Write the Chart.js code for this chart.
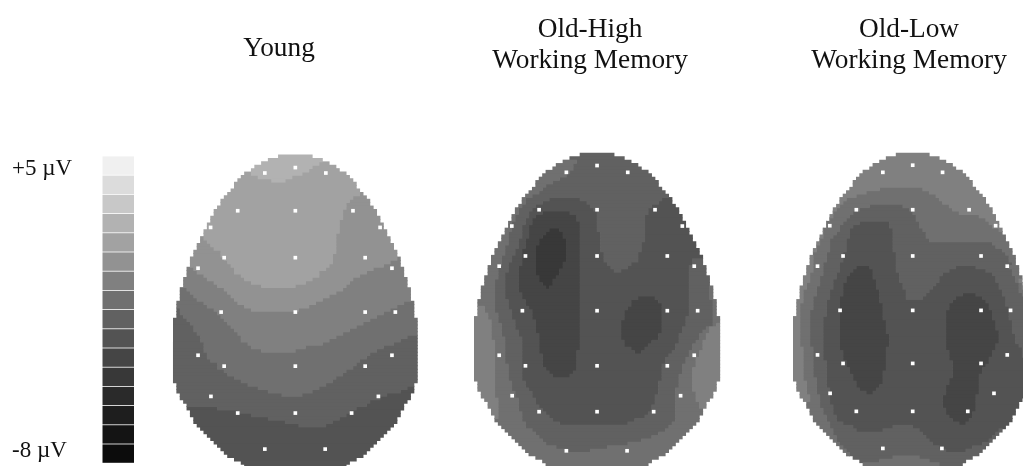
<!DOCTYPE html>
<html>
<head>
<meta charset="utf-8">
<title>Scalp maps</title>
<script src="https://cdn.jsdelivr.net/npm/chart.js@4/dist/chart.umd.min.js"></script>
<style>
body { margin: 0; background: #fff; overflow: hidden; }
#wrap { position: relative; width: 1023px; height: 466px; overflow: hidden; }
canvas { position: absolute; left: 0; top: 0; }
.lbl { position: absolute; font-family: "Liberation Serif", serif; color: #111; white-space: nowrap; transform: translateX(-50%); font-size: 27.3px; line-height: 31px; text-align: center; }
.scale { position: absolute; font-family: "Liberation Serif", serif; color: #111; white-space: nowrap; font-size: 23px; line-height: 26px; }
</style>
</head>
<body>
<div id="wrap">
  <canvas id="chart" width="1023" height="466"></canvas>
  <div class="lbl" style="left:279px;top:32px">Young</div>
  <div class="lbl" style="left:590px;top:13px">Old-High<br>Working Memory</div>
  <div class="lbl" style="left:909px;top:13px">Old-Low<br>Working Memory</div>
  <div class="scale" style="left:12px;top:155px">+5 µV</div>
  <div class="scale" style="left:12px;top:437px">-8 µV</div>
</div>
<script>
// grey of each colour bar step, +5 uV at index 0, -8 uV at index 15
const greys = ['#f0f0f0','#dcdcdc','#c8c8c8','#b2b2b2','#a2a2a2','#929292','#808080','#707070','#616161','#535353','#454545','#383838','#2a2a2a','#1e1e1e','#141414','#0c0c0c'];
const barSteps = [0,1,2,3,4,5,6,7,8,9,10,11,12,13,14,15];

// first and last column of the head on each grid row
const outlineStart = [31,28,26,24,23,21,20,19,18,18,17,16,15,14,14,13,12,12,11,11,10,10,9,9,8,8,7,7,6,6,5,5,5,4,4,4,3,3,3,2,2,2,2,1,1,1,1,1,0,0,0,0,0,0,0,0,0,0,0,0,0,0,0,0,0,0,0,1,1,1,2,2,3,4,4,5,5,6,6,7,8,9,10,11,12,13,14,15,16,18,20,21];
const outlineEnd = [41,44,46,48,49,51,52,53,54,54,55,56,57,58,58,59,60,60,61,61,62,62,63,63,64,64,65,65,66,66,67,67,67,68,68,68,69,69,69,70,70,70,70,71,71,71,71,71,72,72,72,72,72,72,72,72,72,72,72,72,72,72,72,72,72,72,72,71,71,71,70,70,69,68,68,67,67,66,66,65,64,63,62,61,60,59,58,57,56,54,52,51];

// each row: step, column where it changes, next step, ...
const youngRows = [
[3],[3],[3,43,4],[3,41,4],[3,40,4],[4,23,3,38,4],[4,25,3,35,4],[4,29,3,33,4],[4],[4],[4],
[4,55,5],[4,53,5],[4,52,5],[4,51,5],[4,51,5],[4,50,5],[4,50,5],[4,50,5],[4,49,5],[4,49,5],[4,49,5],[4,49,5],[4,48,5],
[5,9,4,48,5],[5,10,4,48,5],[5,11,4,48,5],[5,12,4,48,5],[5,14,4,48,5],[5,14,4,47,5],[5,15,4,47,5,66,6],[5,16,4,47,5,64,6],[5,17,4,46,5,62,6],
[6,6,5,18,4,45,5,59,6],[6,7,5,18,4,43,5,57,6],[6,9,5,20,4,43,5,55,6],[6,10,5,21,4,41,5,53,6],[6,12,5,23,4,39,5,52,6],[6,13,5,26,4,36,5,51,6],
[7,4,6,15,5,50,6],[7,5,6,16,5,48,6],[7,6,6,17,5,46,6],[7,7,6,18,5,44,6],[7,9,6,19,5,42,6,68,7],[7,10,6,21,5,40,6,66,7],
[8,2,7,12,6,23,5,37,6,64,7],[8,2,7,13,6,62,7],[8,3,7,14,6,60,7],[8,4,7,15,6,58,7],[8,5,7,16,6,56,7],[8,6,7,17,6,54,7],[8,6,7,18,6,52,7],[8,7,7,19,6,50,7],
[8,8,7,20,6,48,7,69,8],[8,8,7,20,6,46,7,67,8],[8,9,7,22,6,44,7,65,8],[8,9,7,23,6,39,7,62,8],[8,9,7,26,6,36,7,60,8],
[8,10,7,58,8],[8,10,7,57,8],[8,11,7,55,8],[8,13,7,54,8],[8,13,7,53,8],[8,15,7,51,8],[8,16,7,50,8],[8,18,7,48,8],[8,20,7,47,8],[8,22,7,45,8],
[8,25,7,43,8,69,9],[8,28,7,41,8,67,9],[8,32,7,38,8,63,9],[8,61,9],[8,58,9],[8,57,9],
[9,13,8,54,9],[9,19,8,52,9],[9,23,8,51,9],[9,28,8,49,9],[9,33,8,47,9],[9,37,8,45,9],
[9],[9],[9],[9],[9],[9],[9],[9],[9],[9],[9],[9]
];

const highRows = [
[8],[8],[7,30,8],[7,29,8],[7,29,8],[7,28,8],[7,27,8],[7,25,8],[7,23,8],[7,21,8],[7,20,8],[7,19,8],[7,17,8],
[7,15,8,22,9,31,8,55,9],[7,15,8,20,9,33,8,54,9],[7,14,8,18,9,34,8,52,9],[7,13,8,17,9,35,8,51,9],
[7,13,8,16,9,20,10,28,9,36,8,51,9],[7,12,8,16,9,18,10,30,9,36,8,50,9],[7,12,8,15,9,17,10,30,9,36,8,50,9],[7,11,8,15,9,17,10,31,9,36,8,50,9],[7,11,8,14,9,16,10,31,9,36,8,50,9],
[7,11,8,14,9,16,10,22,11,25,10,31,9,36,8,50,9],[7,10,8,14,9,16,10,21,11,26,10,31,9,37,8,50,9],[7,10,8,14,9,16,10,20,11,26,10,31,9,37,8,50,9],
[7,10,8,13,9,15,10,19,11,27,10,31,9,37,8,50,9],[7,10,8,13,9,15,10,19,11,27,10,31,9,37,8,49,9],[7,9,8,13,9,15,10,18,11,27,10,31,9,37,8,49,9],
[7,9,8,12,9,14,10,18,11,27,10,31,9,37,8,49,9],[7,9,8,12,9,14,10,18,11,27,10,31,9,38,8,48,9],[7,8,8,11,9,14,10,18,11,27,10,31,9,38,8,48,9],
[7,8,8,11,9,14,10,18,11,27,10,31,9,38,8,48,9,64,8],[7,8,8,10,9,14,10,18,11,26,10,31,9,39,8,46,9,64,8],[7,7,8,10,9,13,10,18,11,26,10,31,9,40,8,45,9,63,8],
[7,7,8,10,9,13,10,18,11,25,10,31,9,41,8,43,9,63,8],[7,7,8,9,9,13,10,18,11,25,10,31,9,63,8],[7,7,8,9,9,13,10,19,11,24,10,31,9,63,8],
[7,6,8,9,9,13,10,19,11,23,10,31,9,63,8],[7,6,8,9,9,13,10,20,11,23,10,31,9,63,8],[7,6,8,9,9,13,10,21,11,22,10,31,9,63,8,69,7],
[7,6,8,9,9,13,10,31,9,63,8,69,7],[7,6,8,9,9,14,10,31,9,63,8,69,7],[7,6,8,9,9,14,10,31,9,48,10,53,9,63,8,69,7],
[7,6,8,10,9,15,10,31,9,46,10,54,9,63,8,70,7],[7,6,8,10,9,15,10,31,9,46,10,55,9,63,8,70,7],
[6,3,7,6,8,10,9,16,10,31,9,45,10,55,9,63,8,70,7],[6,3,7,6,8,11,9,17,10,31,9,44,10,55,9,63,8,70,7],[6,4,7,7,8,11,9,17,10,31,9,44,10,55,9,63,8,70,7],
[6,4,7,7,8,11,9,17,10,31,9,44,10,55,9,62,8,70,7],[6,5,7,7,8,12,9,18,10,31,9,43,10,55,9,62,8,70,7],[6,5,7,8,8,12,9,18,10,31,9,43,10,55,9,62,8,70,7,71,6],
[6,5,7,8,8,12,9,18,10,31,9,43,10,55,9,61,8,68,7,69,6],[6,5,7,8,8,13,9,18,10,31,9,43,10,55,9,61,8,67,7,69,6],[6,5,7,8,8,13,9,19,10,31,9,43,10,54,9,60,8,66,7,68,6],
[6,5,7,9,8,14,9,19,10,31,9,43,10,54,9,60,8,66,7,68,6],[6,6,7,9,8,14,9,19,10,31,9,44,10,52,9,60,8,65,7,67,6],[6,6,7,9,8,14,9,19,10,31,9,44,10,51,9,59,8,64,7,67,6],
[6,6,7,9,8,14,9,19,10,31,9,46,10,50,9,59,8,64,7,67,6],[6,6,7,9,8,14,9,19,10,30,9,47,10,49,9,58,8,63,7,66,6],[6,6,7,9,8,14,9,20,10,30,9,57,8,63,7,66,6],
[6,6,7,9,8,14,9,20,10,30,9,56,8,62,7,65,6],[6,6,7,9,8,14,9,20,10,30,9,56,8,62,7,65,6],[6,6,7,10,8,14,9,20,10,30,9,55,8,61,7,65,6],
[6,6,7,10,8,14,9,21,10,30,9,55,8,61,7,64,6],[6,6,7,10,8,14,9,22,10,29,9,55,8,61,7,64,6],[6,6,7,10,8,14,9,23,10,28,9,55,8,60,7,64,6],
[6,6,7,10,8,14,9,55,8,60,7,64,6],[6,6,7,11,8,15,9,54,8,60,7,64,6],[6,6,7,11,8,15,9,54,8,60,7,64,6],[6,6,7,11,8,16,9,54,8,59,7,64,6],
[6,6,7,12,8,17,9,54,8,59,7,65,6],[6,6,7,12,8,17,9,53,8,59,7,65,6],[6,7,7,13,8,18,9,53,8,59,7,65,6],[6,7,7,13,8,18,9,53,8,59,7,66,6],[6,7,7,13,8,19,9,52,8,59,7,66,6],
[6,7,7,13,8,20,9,52,8,59,7],[6,7,7,14,8,21,9,51,8,59,7],[6,7,7,14,8,22,9,50,8,59,7],[7,14,8,23,9,47,8,59,7],[7,15,8,25,9,45,8,58,7],
[7,15,8,57,7],[7,17,8,56,7],[7,18,8,54,7],[7,19,8,52,7],[7,20,8,49,7],[7,21,8,45,7],[7,24,8,39,7],[7,27,8,34,7],[7],[7],[7],[7]
];

const lowRows = [
[6],[6],[6],[6],[6],[6],[6],[6],[6],[6],[6,26,7,39,6],[6,22,7,41,6],[6,19,7,43,6],[6,16,7,44,6],[6,15,7,45,6],
[6,14,7,23,8,33,7,47,6],[6,13,7,20,8,35,7,48,6],[6,12,7,18,8,36,7,50,6],[6,12,7,17,8,37,7,56,6],[6,11,7,16,8,37,7,58,6],
[6,10,7,15,8,20,9,29,8,38,7,59,6],[6,10,7,14,8,18,9,29,8,38,7,60,6],[6,9,7,14,8,17,9,30,8,39,7,62,6],[6,9,7,13,8,17,9,30,8,40,7],[6,9,7,12,8,17,9,30,8,40,7],[6,8,7,11,8,16,9,30,8,41,7],
[6,8,7,11,8,16,9,30,8,60,7],[7,11,8,16,9,30,8,61,7],[6,7,7,11,8,16,9,30,8,63,7],[7,10,8,15,9,31,8,64,7],[6,6,7,10,8,15,9,31,8,65,7],[6,6,7,10,8,15,9,31,8,65,7],[6,6,7,9,8,14,9,31,8,66,7],
[6,6,7,9,8,14,9,19,10,23,9,31,8,49,9,55,8,65,7],[6,6,7,9,8,14,9,18,10,24,9,31,8,47,9,58,8,66,7],[6,5,7,9,8,13,9,17,10,24,9,32,8,45,9,60,8,66,7],[6,5,7,8,8,13,9,16,10,24,9,32,8,44,9,61,8,67,7],
[6,5,7,8,8,12,9,16,10,25,9,32,8,44,9,61,8,67,7,68,6],[6,4,7,8,8,12,9,15,10,25,9,33,8,43,9,62,8,68,7,69,6],[6,4,7,7,8,12,9,15,10,25,9,33,8,42,9,62,8,68,7,69,6],
[6,3,7,7,8,11,9,15,10,26,9,34,8,41,9,63,8,68,7],[6,3,7,7,8,11,9,15,10,26,9,34,8,40,9,51,10,55,9,63,8,69,7],[6,3,7,6,8,11,9,14,10,26,9,34,8,39,9,49,10,57,9,64,8],
[6,3,7,6,8,10,9,14,10,26,9,48,10,58,9,64,8],[6,2,7,6,8,10,9,14,10,27,9,47,10,59,9,64,8],[6,2,7,6,8,10,9,14,10,27,9,47,10,59,9,65,8],
[6,2,7,5,8,10,9,14,10,27,9,46,10,60,9,65,8],[6,2,7,5,8,10,9,14,10,27,9,46,10,60,9,65,8],[6,2,7,5,8,9,9,14,10,27,9,46,10,60,9,65,8],
[6,2,7,5,8,9,9,14,10,28,9,46,10,61,9,66,8],[6,2,7,5,8,9,9,14,10,28,9,46,10,61,9,66,8],[6,2,7,5,8,9,9,14,10,28,9,46,10,61,9,66,8],[6,2,7,5,8,9,9,14,10,28,9,46,10,62,9,66,8],
[6,2,7,5,8,9,9,14,10,29,9,46,10,62,9,67,8],[6,2,7,5,8,9,9,14,10,29,9,46,10,62,9,67,8],[6,2,7,5,8,9,9,14,10,29,9,46,10,62,9,67,8],[6,2,7,5,8,9,9,14,10,29,9,46,10,61,9,68,8],
[6,3,7,6,8,9,9,14,10,28,9,46,10,61,9,69,8],[6,3,7,6,8,9,9,15,10,28,9,47,10,60,9,69,8],[6,3,7,6,8,9,9,15,10,28,9,47,10,60,9,69,8],[6,3,7,6,8,9,9,15,10,28,9,47,10,59,9,70,8],
[6,3,7,6,8,10,9,16,10,28,9,48,10,59,9,70,8],[6,3,7,6,8,10,9,16,10,28,9,48,10,58,9,70,8],[6,3,7,6,8,10,9,17,10,28,9,48,10,57,9,71,8],[6,3,7,6,8,10,9,17,10,27,9,48,10,57,9,71,8],
[6,3,7,6,8,10,9,18,10,27,9,48,10,56,9],[6,3,7,7,8,10,9,18,10,27,9,47,10,56,9],[6,4,7,7,8,10,9,19,10,27,9,47,10,56,9],[6,4,7,7,8,10,9,19,10,26,9,46,10,56,9],
[6,4,7,7,8,11,9,20,10,25,9,46,10,56,9],[6,4,7,7,8,11,9,22,10,24,9,46,10,56,9],[6,5,7,8,8,11,9,45,10,55,9],[6,5,7,8,8,11,9,45,10,55,9],
[7,8,8,11,9,45,10,55,9],[7,8,8,12,9,45,10,55,9],[7,9,8,12,9,46,10,55,9],[7,9,8,12,9,46,10,54,9],[7,10,8,13,9,47,10,54,9],[7,10,8,13,9,48,10,53,9],[7,11,8,15,9,50,10,52,9],
[7,11,8,18,9,30,8,36,9],[7,12,8,19,9,27,8,38,9,62,8],[7,12,8,39,9,61,8],[7,13,8,40,9,60,8],[7,13,8,41,9,59,8],[7,14,8,42,9,57,8],[7,15,8,44,9,54,8],[7,16,8,46,9,52,8],
[7,17,8],[8,30,7,38,8],[8,26,7,41,8],[7,44,8]
];

// electrode columns, same montage on all three heads
const dotCols = [36,27,45,19,36,53,11,61,15,36,56.6,7.3,64.5,14.1,36,56.6,65.5,7.3,64.5,15,36,56.6,11.1,60.5,19,36,52.6,27,44.8];
const youngDotRows = [3.7,5.3,5.3,16.4,16.4,16.4,21.3,21.3,30.2,30.2,30.2,33.3,33.3,46.2,46.2,46.2,46.2,58.9,58.9,62.1,62.1,62.1,71,71,75.9,75.9,75.9,86.5,86.5];
const highDotRows = [3.6,5.6,5.6,16.6,16.6,16.6,21.4,21.4,30.2,30.2,30.2,33.2,33.2,46.3,46.3,46.3,46.3,59.4,59.4,62.5,62.5,62.5,71.3,71.3,76,76,76,87.5,87.5];
const lowDotRows = [3.5,5.6,5.6,16.6,16.6,16.6,21.3,21.3,30.2,30.2,30.2,33.2,33.2,46.2,46.2,46.2,46.2,59.3,59.3,61.8,61.8,61.8,70.6,70.6,75.9,75.9,75.9,86.8,86.8];

// where each head's grid sits on the chart axes
const heads = [
    { rows: youngRows, dotRows: youngDotRows, left: 173.3, top: 155, cellW: 3.39, cellH: 3.4 },
    { rows: highRows, dotRows: highDotRows, left: 474.3, top: 153.3, cellW: 3.41, cellH: 3.4 },
    { rows: lowRows, dotRows: lowDotRows, left: 793.3, top: 153.3, cellW: 3.317, cellH: 3.4 }
];

const runsByStep = {};
const dots = [];

heads.forEach(head => {
    head.rows.forEach((row, r) => {
        const y = head.top + (r + 0.5) * head.cellH;
        let from = outlineStart[r];
        for (let i = 0; i < row.length; i += 2) {
            const to = i + 1 < row.length ? row[i + 1] : outlineEnd[r];
            const step = row[i];
            if (!runsByStep[step]) runsByStep[step] = [];
            runsByStep[step].push({ x: [head.left + from * head.cellW, head.left + to * head.cellW], y });
            from = to;
        }
    });
    dotCols.forEach((col, i) => {
        dots.push({ x: head.left + col * head.cellW, y: head.top + head.dotRows[i] * head.cellH });
    });
});

const datasets = [{
    type: 'scatter',
    indexAxis: 'x',
    data: dots,
    pointStyle: 'rect',
    pointRadius: 2.6,
    pointBackgroundColor: '#ffffff',
    pointBorderWidth: 0,
    order: 0
}];

Object.keys(runsByStep).forEach(step => {
    datasets.push({
        data: runsByStep[step],
        backgroundColor: greys[step],
        barThickness: 3.6,
        grouped: false,
        order: 2
    });
});

// colour bar
datasets.push({
    data: barSteps.map(s => ({ x: [102.5, 134], y: 165.6 + s * 19.2 })),
    backgroundColor: barSteps.map(s => greys[s]),
    barThickness: 18.4,
    inflateAmount: 0,
    grouped: false,
    order: 1
});

new Chart(document.getElementById('chart'), {
    type: 'bar',
    data: { datasets },
    options: {
        indexAxis: 'y',
        responsive: false,
        animation: false,
        events: [],
        layout: { padding: 0, autoPadding: false },
        plugins: { legend: { display: false }, tooltip: { enabled: false } },
        scales: {
            x: { type: 'linear', min: 0, max: 1023, offset: false, display: false },
            y: { type: 'linear', min: 0, max: 466, reverse: true, offset: false, display: false }
        }
    }
});
</script>
</body>
</html>
